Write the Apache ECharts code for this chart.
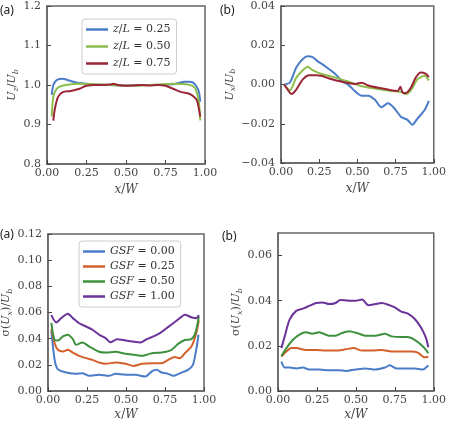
<!DOCTYPE html>
<html>
<head>
<meta charset="utf-8">
<title>profiles</title>
<script src="https://cdn.jsdelivr.net/npm/echarts@6/dist/echarts.min.js"></script>
<style>
  html, body { margin:0; padding:0; background:#fff; }
  #main { width:449px; height:422px; }
</style>
</head>
<body>
<div id="main"></div>
<script>
// ---- data ----
// (a) top: Uz/Ub
var xA1 = [0.03,0.04,0.06,0.08,0.10,0.12,0.15,0.20,0.25,0.30,0.40,0.50,0.60,0.70,0.80,0.84,0.87,0.90,0.92,0.94,0.96,0.97];
var uzA1 = [0.975,1.000,1.012,1.015,1.016,1.014,1.010,1.005,1.003,1.001,1.000,0.999,1.000,1.000,1.002,1.006,1.008,1.008,1.007,1.000,0.985,0.958];
var xA2 = [0.03,0.04,0.06,0.08,0.12,0.20,0.30,0.40,0.50,0.60,0.70,0.80,0.88,0.92,0.94,0.96,0.97];
var uzA2 = [0.920,0.970,0.990,0.996,1.000,1.003,1.002,1.000,0.998,0.999,1.001,1.003,1.002,0.998,0.990,0.960,0.910];
var xA3 = [0.04,0.05,0.07,0.10,0.15,0.20,0.25,0.30,0.35,0.40,0.42,0.45,0.50,0.55,0.60,0.65,0.70,0.75,0.80,0.85,0.90,0.93,0.95,0.97];
var uzA3 = [0.910,0.940,0.970,0.982,0.985,0.990,0.998,1.000,1.000,1.001,1.003,1.000,0.998,0.999,1.000,0.999,1.000,0.998,0.990,0.982,0.978,0.970,0.960,0.920];

// (b) top: Ux/Ub
var xB1 = [0.02,0.058,0.10,0.143,0.175,0.207,0.24,0.27,0.315,0.357,0.40,0.443,0.486,0.529,0.571,0.615,0.657,0.70,0.743,0.786,0.828,0.86,0.893,0.94,0.968];
var uxB1 = [0.0,0.001,0.0087,0.013,0.0144,0.014,0.0118,0.0104,0.0078,0.0052,0.0017,-0.0003,-0.0035,-0.0057,-0.0057,-0.0078,-0.0116,-0.0096,-0.0122,-0.0165,-0.018,-0.0205,-0.0174,-0.013,-0.0083];
var xB2 = [0.02,0.058,0.10,0.143,0.175,0.207,0.27,0.357,0.443,0.529,0.615,0.70,0.786,0.818,0.85,0.893,0.94,0.968];
var uxB2 = [0.0,-0.003,0.0035,0.0073,0.009,0.0073,0.0052,0.0035,0.0014,-0.0009,-0.002,-0.003,-0.0038,-0.0049,-0.003,0.0026,0.0044,0.002];
var xB3 = [0.02,0.036,0.068,0.10,0.143,0.186,0.228,0.27,0.315,0.40,0.486,0.529,0.571,0.636,0.70,0.764,0.782,0.79,0.80,0.818,0.85,0.882,0.914,0.946,0.968];
var uxB3 = [0.0,-0.0017,-0.0049,-0.0026,0.0026,0.0047,0.0047,0.0043,0.0031,0.0014,0.0003,0.0009,-0.0005,-0.0017,-0.0026,-0.0033,-0.0012,-0.0030,-0.0043,-0.0043,-0.0017,0.0035,0.0061,0.0056,0.0038];

// (a) bottom: sigma(Ux)/Ub
var xC0 = [0.022,0.043,0.058,0.075,0.117,0.18,0.22,0.265,0.328,0.39,0.434,0.497,0.56,0.624,0.666,0.697,0.729,0.77,0.803,0.855,0.898,0.929,0.95,0.965];
var sC0 = [0.0455,0.0238,0.0175,0.0157,0.0141,0.0131,0.0136,0.0116,0.0124,0.0116,0.0131,0.0124,0.0124,0.0111,0.015,0.0162,0.0141,0.0131,0.0116,0.0141,0.0162,0.020,0.0315,0.043];
var xC1 = [0.022,0.043,0.064,0.096,0.128,0.16,0.20,0.244,0.286,0.328,0.37,0.434,0.497,0.55,0.602,0.666,0.729,0.77,0.813,0.845,0.877,0.919,0.95,0.967];
var sC1 = [0.0475,0.0366,0.0315,0.0302,0.0315,0.0294,0.0269,0.0251,0.0238,0.0218,0.0208,0.0218,0.0208,0.0192,0.0208,0.0213,0.0213,0.0238,0.0259,0.0251,0.0289,0.034,0.044,0.054];
var xC2 = [0.022,0.043,0.064,0.096,0.128,0.16,0.18,0.22,0.265,0.328,0.37,0.434,0.497,0.56,0.602,0.666,0.729,0.792,0.834,0.877,0.919,0.944,0.967];
var sC2 = [0.052,0.039,0.0386,0.0417,0.043,0.0396,0.0353,0.037,0.034,0.030,0.0294,0.030,0.0284,0.0276,0.0269,0.0289,0.0294,0.0315,0.036,0.039,0.0396,0.044,0.057];
var xC3 = [0.022,0.054,0.085,0.128,0.16,0.20,0.244,0.286,0.328,0.37,0.40,0.444,0.497,0.54,0.592,0.634,0.676,0.718,0.76,0.803,0.845,0.877,0.919,0.95,0.967];
var sC3 = [0.058,0.0524,0.0557,0.059,0.0557,0.0518,0.0493,0.0468,0.043,0.0404,0.0373,0.0396,0.0386,0.0378,0.037,0.0396,0.0417,0.0442,0.048,0.0518,0.0557,0.0582,0.0564,0.0557,0.058];

// (b) bottom: sigma(Ux)/Ub
var xD0 = [0.022,0.043,0.075,0.117,0.16,0.20,0.265,0.328,0.39,0.434,0.497,0.56,0.624,0.687,0.718,0.76,0.813,0.877,0.929,0.965];
var sD0 = [0.013,0.0104,0.0104,0.010,0.0104,0.0095,0.0095,0.0092,0.0092,0.0089,0.0095,0.010,0.0095,0.0104,0.0114,0.010,0.010,0.010,0.0095,0.0114];
var xD1 = [0.022,0.054,0.085,0.117,0.18,0.244,0.307,0.37,0.434,0.486,0.54,0.602,0.666,0.729,0.792,0.855,0.898,0.94,0.965];
var sD1 = [0.0152,0.0175,0.019,0.019,0.0182,0.0182,0.0179,0.0179,0.0185,0.019,0.0179,0.0179,0.0182,0.0175,0.0175,0.0175,0.017,0.0149,0.0152];
var xD2 = [0.022,0.054,0.096,0.138,0.18,0.22,0.265,0.328,0.37,0.41,0.455,0.507,0.56,0.624,0.687,0.729,0.792,0.834,0.877,0.919,0.95,0.965];
var sD2 = [0.0155,0.019,0.0227,0.025,0.026,0.0254,0.026,0.0245,0.0245,0.0257,0.0265,0.0257,0.0245,0.0245,0.0254,0.0242,0.0239,0.0239,0.0227,0.0205,0.0182,0.0167];
var xD3 = [0.022,0.043,0.075,0.117,0.16,0.20,0.244,0.286,0.328,0.37,0.40,0.455,0.497,0.54,0.58,0.624,0.666,0.708,0.75,0.792,0.834,0.877,0.919,0.95,0.965];
var sD3 = [0.019,0.0242,0.0317,0.0355,0.0365,0.0377,0.039,0.0392,0.0385,0.039,0.0403,0.040,0.040,0.0405,0.038,0.0385,0.039,0.0382,0.037,0.0352,0.0343,0.032,0.028,0.0235,0.0194];

var zNames = ['z/L = 0.25', 'z/L = 0.50', 'z/L = 0.75'];
var gsfNames = ['GSF = 0.00', 'GSF = 0.25', 'GSF = 0.50', 'GSF = 1.00'];
var zColors = ['#4a7cc8', '#8dbd4b', '#9a2536'];
var gColors = ['#4a7cc8', '#d4602c', '#3e903e', '#6b3399'];

function pairs(xs, ys) {
    return xs.map(function (x, i) { return [x, ys[i]]; });
}

var SERIF = 'DejaVu Serif';
var frame = '#666';

function mathName(s) {
    // italic letters, upright digits and signs
    return s.replace(/[A-Za-z]+/g, function (m) { return '{i|' + m + '}'; });
}

function xAxisOf(idx, gap) {
    return {
        gridIndex: idx, type: 'value', min: 0, max: 1, interval: 0.25,
        name: '{i|x}/{i|W}', nameLocation: 'middle', nameGap: gap,
        nameTextStyle: { fontFamily: SERIF, fontSize: 12, color: '#444',
            rich: { i: { fontFamily: SERIF, fontStyle: 'italic', fontSize: 12, color: '#444' } } },
        axisLine: { show: true, onZero: false, lineStyle: { color: frame, width: 1.5 } },
        axisTick: { show: true, inside: true, length: 4, lineStyle: { color: '#444' } },
        axisLabel: { fontFamily: SERIF, fontSize: 11, color: '#444', margin: 4,
            formatter: function (v) { return v.toFixed(2); } },
        splitLine: { show: false }
    };
}

function yAxisOf(idx, min, max, step, dec, nameRich, gap, showMax) {
    return {
        gridIndex: idx, type: 'value', min: min, max: max, interval: step,
        name: nameRich, nameLocation: 'middle', nameGap: gap, nameRotate: 90,
        nameTextStyle: { fontFamily: SERIF, fontSize: 11, color: '#444',
            rich: {
                i: { fontFamily: SERIF, fontStyle: 'italic', fontSize: 11, color: '#444' },
                s: { fontFamily: SERIF, fontStyle: 'italic', fontSize: 8, color: '#444', verticalAlign: 'bottom', padding: [6, 0, 0, 0] }
            } },
        axisLine: { show: true, lineStyle: { color: frame, width: 1.5 } },
        axisTick: { show: true, inside: true, length: 4, lineStyle: { color: '#444' } },
        axisLabel: { fontFamily: SERIF, fontSize: 11, color: '#444', margin: 6,
            showMaxLabel: showMax,
            formatter: function (v) { return v.toFixed(dec).replace('-', '\u2212'); } },
        splitLine: { show: false }
    };
}

var series = [];
function addLine(name, color, xi, data) {
    series.push({
        name: name, type: 'line', xAxisIndex: xi, yAxisIndex: xi,
        data: data, showSymbol: false, symbol: 'none', smooth: 0.25,
        lineStyle: { color: color, width: 2 }, itemStyle: { color: color },
        animation: false
    });
}
addLine(zNames[0], zColors[0], 0, pairs(xA1, uzA1));
addLine(zNames[1], zColors[1], 0, pairs(xA2, uzA2));
addLine(zNames[2], zColors[2], 0, pairs(xA3, uzA3));
addLine(zNames[0], zColors[0], 1, pairs(xB1, uxB1));
addLine(zNames[1], zColors[1], 1, pairs(xB2, uxB2));
addLine(zNames[2], zColors[2], 1, pairs(xB3, uxB3));
addLine(gsfNames[0], gColors[0], 2, pairs(xC0, sC0));
addLine(gsfNames[1], gColors[1], 2, pairs(xC1, sC1));
addLine(gsfNames[2], gColors[2], 2, pairs(xC2, sC2));
addLine(gsfNames[3], gColors[3], 2, pairs(xC3, sC3));
addLine(gsfNames[0], gColors[0], 3, pairs(xD0, sD0));
addLine(gsfNames[1], gColors[1], 3, pairs(xD1, sD1));
addLine(gsfNames[2], gColors[2], 3, pairs(xD2, sD2));
addLine(gsfNames[3], gColors[3], 3, pairs(xD3, sD3));

function legendOf(names, left, top, gap) {
    return {
        data: names, orient: 'vertical', left: left, top: top,
        icon: 'rect', itemWidth: 22, itemHeight: 2.5, itemGap: gap,
        padding: [4, 6, 4, 4],
        borderColor: '#ccc', borderWidth: 1, borderRadius: 3, backgroundColor: '#fff',
        selectedMode: false,
        formatter: function (n) { return mathName(n); },
        textStyle: { fontFamily: SERIF, fontSize: 11, color: '#333', lineHeight: 13,
            rich: { i: { fontFamily: SERIF, fontStyle: 'italic', fontSize: 11, color: '#333' } } }
    };
}

var gridBox = { show: true, borderColor: frame, borderWidth: 1.5, backgroundColor: 'transparent', containLabel: false };
var myChart = echarts.init(document.getElementById('main'));
myChart.setOption({
    animation: false,
    grid: [
        Object.assign({ left: 47, top: 6, width: 158, height: 158 }, gridBox),
        Object.assign({ left: 281, top: 6, width: 156, height: 157 }, gridBox),
        Object.assign({ left: 45, top: 234, width: 159, height: 159 }, gridBox),
        Object.assign({ left: 278, top: 233, width: 158, height: 158 }, gridBox)
    ],
    xAxis: [xAxisOf(0, 20), xAxisOf(1, 20), xAxisOf(2, 18), xAxisOf(3, 18)],
    yAxis: [
        yAxisOf(0, 0.8, 1.2, 0.1, 1, '{i|U}{s|z}/{i|U}{s|b}', 26, true),
        yAxisOf(1, -0.04, 0.04, 0.02, 2, '{i|U}{s|x}/{i|U}{s|b}', 38, true),
        yAxisOf(2, 0, 0.12, 0.02, 2, '\u03c3({i|U}{s|x})/{i|U}{s|b}', 34, true),
        yAxisOf(3, 0, 0.07, 0.02, 2, '\u03c3({i|U}{s|x})/{i|U}{s|b}', 32, false)
    ],
    legend: [
        legendOf(zNames, 82, 19, 4),
        legendOf(gsfNames, 79, 241, 2)
    ],
    graphic: [
        { type: 'text', left: 0, top: 5, style: { text: '(a)', font: '12px "Noto Sans"', fill: '#222' } },
        { type: 'text', left: 220, top: 5, style: { text: '(b)', font: '12px "Noto Sans"', fill: '#222' } },
        { type: 'text', left: 0, top: 229, style: { text: '(a)', font: '12px "Noto Sans"', fill: '#222' } },
        { type: 'text', left: 222, top: 231, style: { text: '(b)', font: '12px "Noto Sans"', fill: '#222' } }
    ],
    series: series
});
</script>
</body>
</html>
